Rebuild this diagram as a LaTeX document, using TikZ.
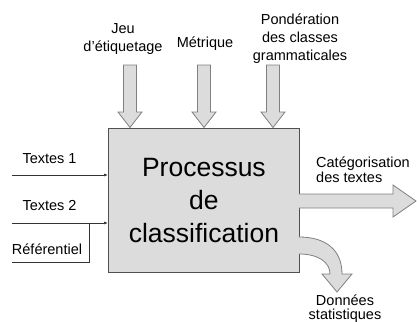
\documentclass[tikz,border=0pt]{standalone}
\usepackage{fontspec}
\usetikzlibrary{arrows.meta}
\setmainfont{Liberation Sans}
\definecolor{boxfill}{HTML}{DCDCDC}
\definecolor{boxline}{HTML}{505050}
\definecolor{arrline}{HTML}{808080}
\begin{document}
\begin{tikzpicture}[x=1pt,y=-1pt,
  lbl/.style={inner sep=0pt, align=center, font=\fontsize{14.5}{18}\selectfont},
  blockarrow/.style={fill=boxfill, draw=arrline, line width=0.8pt, line join=miter},
  thin/.style={draw=black!80, line width=0.7pt},
  smalltip/.style={-{Latex[length=4pt,width=3pt]}}
]
\useasboundingbox (0,0) rectangle (417,321);
% main box
\node[draw=boxline, fill=boxfill, line width=0.8pt, minimum width=191pt, minimum height=144pt,
      inner sep=0pt, anchor=north west, align=center,
      font=\fontsize{26.5}{33}\selectfont] (proc) at (108,128) {Processus\\de\\classification};
% top inputs
\node[lbl] (jeu) at (123,39) {Jeu\\d'étiquetage};
\node[lbl] (met) at (205,44) {Métrique};
\node[lbl] (pond) at (300,39) {Pondération\\des classes\\grammaticales};
\foreach \cx in {130,204,273}{
  \path[blockarrow] (\cx-6.5,65) -- (\cx+6.5,65) -- (\cx+6.5,112) -- (\cx+12,112) -- (\cx,127.5)
     -- (\cx-12,112) -- (\cx-6.5,112) -- cycle;
}
% left inputs
\node[lbl] (t1) at (49.5,159) {Textes 1};
\node[lbl] (t2) at (49.5,206) {Textes 2};
\node[lbl] (ref) at (47,249) {Référentiel};
\coordinate (t1s) at (12,175);
\coordinate (t2s) at (12,223);
\coordinate (rc) at (89,262);
\coordinate (rs) at (12,262);
\draw[thin, smalltip] (t1s) -- (t1s -| proc.west);
\draw[thin, smalltip] (t2s) -- (t2s -| proc.west);
\draw[thin] (t2s -| rc) -- (rc) -- (rs);
% right outputs
\node[lbl, align=left, anchor=west, font=\fontsize{14.5}{15}\selectfont] (cat) at (316,169.5) {Catégorisation\\des textes};
\path[blockarrow] (299,194) -- (393,194) -- (393,185) -- (416,201) -- (393,217) -- (393,208) -- (299,208);
\node[lbl, font=\fontsize{14.5}{14}\selectfont] (don) at (345,308.5) {Données\\statistiques};
\path[blockarrow] (299,237) .. controls (326,237) and (342,250) .. (342,274) -- (352,274) -- (337,292)
   -- (322,274) -- (330,274) .. controls (330,262) and (318,254) .. (299,254);
\end{tikzpicture}
\end{document}
